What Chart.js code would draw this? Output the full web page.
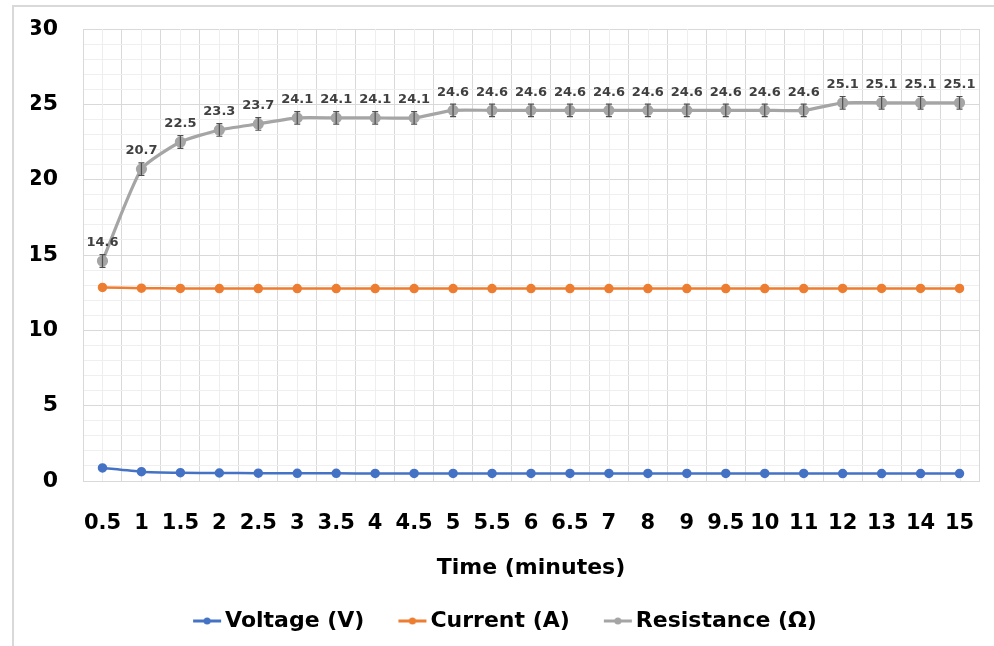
<!DOCTYPE html>
<html>
<head>
<meta charset="utf-8">
<script src="https://cdn.jsdelivr.net/npm/chart.js@4.4.1/dist/chart.umd.min.js"></script>
<style>
  html, body { margin: 0; padding: 0; background: #ffffff; overflow: hidden; }
  #wrap { position: relative; width: 994px; height: 646px; }
  #frame { position: absolute; left: 12px; top: 5px; width: 1100px; height: 800px;
           border-left: 2px solid #d9d9d9; border-top: 2px solid #d9d9d9; pointer-events: none; z-index: 2; }
  canvas { position: absolute; left: 0; top: 0; }
</style>
</head>
<body>
<div id="wrap">
  <canvas id="c" width="994" height="646"></canvas>
  <div id="frame"></div>
</div>
<script>
// ---- data ----
const times = ['0.5','1','1.5','2','2.5','3','3.5','4','4.5','5','5.5','6','6.5','7','8','9','9.5','10','11','12','13','14','15'];
const voltage = [0.87,0.62,0.55,0.53,0.52,0.51,0.51,0.5,0.5,0.5,0.5,0.5,0.5,0.5,0.5,0.5,0.5,0.5,0.5,0.49,0.49,0.49,0.49];
const current = [12.85,12.8,12.78,12.77,12.77,12.77,12.77,12.77,12.77,12.77,12.77,12.77,12.77,12.77,12.77,12.77,12.77,12.77,12.77,12.78,12.78,12.78,12.78];
const resistance = [14.6,20.7,22.5,23.3,23.7,24.1,24.1,24.1,24.1,24.6,24.6,24.6,24.6,24.6,24.6,24.6,24.6,24.6,24.6,25.1,25.1,25.1,25.1];
const resistanceErr = [0.42,0.42,0.42,0.42,0.42,0.42,0.42,0.42,0.42,0.42,0.42,0.42,0.42,0.42,0.42,0.42,0.42,0.42,0.42,0.42,0.42,0.42,0.42];
const seriesNames = ['Voltage (V)', 'Current (A)', 'Resistance (Ω)'];
const yTickValues = [0, 5, 10, 15, 20, 25, 30];

const colors = ['#4472C4', '#ED7D31', '#A5A5A5'];
const FONT = '"DejaVu Sans", sans-serif';

function legendMarker(color) {
  const cv = document.createElement('canvas');
  cv.width = 57; cv.height = 10;
  const g = cv.getContext('2d');
  g.strokeStyle = color; g.lineWidth = 3;
  g.beginPath(); g.moveTo(18, 5); g.lineTo(46, 5); g.stroke();
  g.fillStyle = color;
  g.beginPath(); g.arc(32, 5, 3.5, 0, Math.PI * 2); g.fill();
  return cv;
}
const markers = colors.map(legendMarker);

const minorGrid = {
  id: 'minorGrid',
  beforeDatasetsDraw(chart) {
    const { ctx, chartArea: a, scales: { x } } = chart;
    ctx.save();
    ctx.strokeStyle = '#eeeeee';
    ctx.lineWidth = 1;
    for (let i = 0; i < times.length; i++) {
      const px = Math.round(x.getPixelForValue(i)) + 0.5;
      ctx.beginPath(); ctx.moveTo(px, a.top); ctx.lineTo(px, a.bottom); ctx.stroke();
    }
    ctx.restore();
  }
};

const errorBarsAndLabels = {
  id: 'errorBarsAndLabels',
  afterDatasetsDraw(chart) {
    const { ctx, scales: { y } } = chart;
    const meta = chart.getDatasetMeta(2);
    ctx.save();
    ctx.strokeStyle = '#505050';
    ctx.lineWidth = 1.2;
    meta.data.forEach((el, i) => {
      const yt = y.getPixelForValue(resistance[i] + resistanceErr[i]);
      const yb = y.getPixelForValue(resistance[i] - resistanceErr[i]);
      ctx.beginPath();
      ctx.moveTo(el.x, yt); ctx.lineTo(el.x, yb);
      ctx.moveTo(el.x - 3, yt); ctx.lineTo(el.x + 3, yt);
      ctx.moveTo(el.x - 3, yb); ctx.lineTo(el.x + 3, yb);
      ctx.stroke();
    });
    ctx.fillStyle = '#404040';
    ctx.font = 'bold 13px ' + FONT;
    ctx.textAlign = 'center';
    ctx.textBaseline = 'middle';
    meta.data.forEach((el, i) => {
      ctx.fillText(resistance[i].toFixed(1), el.x, el.y - 18);
    });
    ctx.restore();
  }
};

new Chart(document.getElementById('c'), {
  type: 'line',
  data: {
    labels: times,
    datasets: [
      { label: seriesNames[0], data: voltage, borderColor: colors[0], backgroundColor: colors[0],
        borderWidth: 2.5, pointRadius: 3.5, pointHoverRadius: 3.5, tension: 0.18 },
      { label: seriesNames[1], data: current, borderColor: colors[1], backgroundColor: colors[1],
        borderWidth: 2.5, pointRadius: 3.5, pointHoverRadius: 3.5, tension: 0.18 },
      { label: seriesNames[2], data: resistance, borderColor: colors[2], backgroundColor: colors[2],
        borderWidth: 3.2, pointRadius: 4, pointHoverRadius: 4, tension: 0.18 }
    ]
  },
  options: {
    responsive: false,
    animation: false,
    events: [],
    layout: { padding: { left: 31, right: 15, top: 29, bottom: 4 } },
    scales: {
      x: {
        offset: true,
        afterFit(scale) { scale.height = 95; scale.paddingLeft = 0; scale.paddingRight = 0; },
        grid: { offset: true, color: '#d9d9d9', drawTicks: false },
        border: { color: '#d9d9d9' },
        ticks: { color: '#000', font: { family: FONT, weight: 'bold', size: 21 },
                 padding: 30, maxRotation: 0, autoSkip: false },
        title: { display: true, text: 'Time (minutes)', color: '#000',
                 font: { family: FONT, weight: 'bold', size: 22 }, padding: { top: 0, bottom: -5 } }
      },
      y: {
        min: 0, max: 30,
        afterFit(scale) { scale.width = 52; scale.paddingTop = 0; scale.paddingBottom = 0; },
        grid: { drawTicks: false,
                color: (c) => (c.tick && yTickValues.includes(c.tick.value)) ? '#d9d9d9' : '#efefef' },
        border: { color: '#d9d9d9' },
        ticks: { stepSize: 1, autoSkip: false, padding: 25, color: '#000',
                 font: { family: FONT, weight: 'bold', size: 22 },
                 callback: (v) => yTickValues.includes(v) ? String(v) : '' }
      }
    },
    plugins: {
      tooltip: { enabled: false },
      legend: {
        position: 'bottom',
        labels: {
          color: '#000',
          font: { family: FONT, weight: 'bold', size: 22 },
          usePointStyle: true,
          pointStyleWidth: 21,
          boxHeight: 10,
          padding: 34,
          generateLabels(chart) {
            const items = Chart.defaults.plugins.legend.labels.generateLabels(chart);
            items.forEach((it, i) => { it.pointStyle = markers[i]; });
            return items;
          }
        }
      }
    }
  },
  plugins: [minorGrid, errorBarsAndLabels]
});
</script>
</body>
</html>
